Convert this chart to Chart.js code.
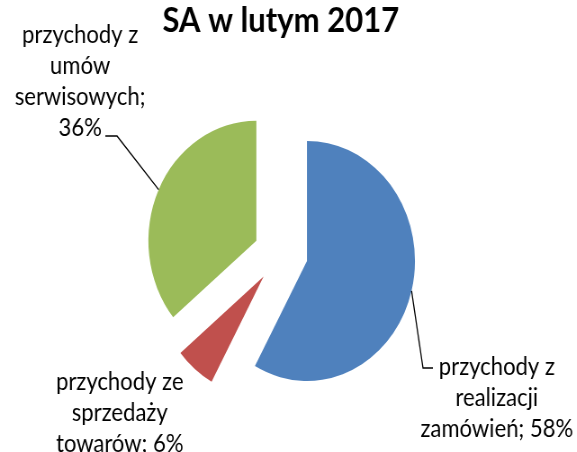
<!DOCTYPE html>
<html lang="pl">
<head>
<meta charset="utf-8">
<title>SA w lutym 2017</title>
<script src="https://cdn.jsdelivr.net/npm/chart.js@4.4.1/dist/chart.umd.min.js"></script>
<style>
    html, body { margin: 0; padding: 0; background: #fff; overflow: hidden; }
    /* the original picture is a little squeezed sideways, so is this one */
    #wrap { width: 641px; height: 452px; transform: scaleX(0.9); transform-origin: 0 0; }
</style>
</head>
<body>
<div id="wrap"><canvas id="pieChart" width="641" height="452"></canvas></div>
<script>
const chartTitle = 'SA w lutym 2017';
const categoryLines = [
    ['przychody z', 'realizacji', 'zamówień'],
    ['przychody ze', 'sprzedaży', 'towarów'],
    ['przychody z', 'umów', 'serwisowych']
];
const shares = [58, 6, 36];
const percentOnOwnLine = [false, false, true];
const sliceColors = ['#4F81BD', '#C0504D', '#9BBB59'];

// label placement (first baseline) and leader line bend, canvas px
const labelAnchors = [
    { x: 552, y: 375, elbow: { x: 470, y: 368 }, tail: 481 },
    { x: 133, y: 390, elbow: null },
    { x: 89, y: 43, elbow: { x: 130, y: 136 }, tail: 117 }
];

function labelText(i) {
    const lines = categoryLines[i].slice();
    const last = lines.length - 1;
    if (percentOnOwnLine[i]) {
        lines[last] += ';';
        lines.push(shares[i] + '%');
    } else {
        lines[last] += '; ' + shares[i] + '%';
    }
    return lines;
}

// push every slice out along its bisector, like an exploded Excel pie
const explodePlugin = {
    id: 'explode',
    afterDatasetsUpdate(chart, args, opts) {
        chart.getDatasetMeta(0).data.forEach(arc => {
            const mid = (arc.startAngle + arc.endAngle) / 2;
            arc.x += Math.cos(mid) * opts.distance;
            arc.y += Math.sin(mid) * opts.distance;
        });
    }
};

const labelPlugin = {
    id: 'sliceLabels',
    afterDraw(chart, args, opts) {
        const ctx = chart.ctx;
        const arcs = chart.getDatasetMeta(0).data;
        ctx.save();
        ctx.font = opts.font;
        ctx.fillStyle = opts.color;
        ctx.strokeStyle = opts.color;
        ctx.lineWidth = 1.3;
        ctx.textAlign = 'center';
        ctx.textBaseline = 'alphabetic';
        arcs.forEach((arc, i) => {
            const a = labelAnchors[i];
            labelText(i).forEach((t, k) => ctx.fillText(t, a.x, a.y + k * opts.lineHeight));
            if (!a.elbow) return;
            const mid = (arc.startAngle + arc.endAngle) / 2;
            ctx.beginPath();
            ctx.moveTo(arc.x + Math.cos(mid) * arc.outerRadius, arc.y + Math.sin(mid) * arc.outerRadius);
            ctx.lineTo(a.elbow.x, a.elbow.y);
            ctx.lineTo(a.tail, a.elbow.y);
            ctx.stroke();
        });
        ctx.restore();
    }
};

new Chart(document.getElementById('pieChart').getContext('2d'), {
    type: 'pie',
    data: {
        labels: categoryLines.map(l => l.join(' ')),
        datasets: [{
            data: shares,
            backgroundColor: sliceColors,
            borderWidth: 0,
            radius: 120
        }]
    },
    options: {
        responsive: false,
        animation: false,
        layout: { padding: { left: 0, right: 17, top: 0, bottom: 0 } },
        plugins: {
            legend: { display: false },
            title: {
                display: true,
                text: chartTitle,
                color: '#000',
                font: { family: 'Lato', size: 34.5, weight: 'bold', lineHeight: 1.2 },
                padding: { top: 0, bottom: 13.6 }
            },
            explode: { distance: 30 },
            sliceLabels: { font: '24.5px Lato', color: '#000', lineHeight: 31 }
        }
    },
    plugins: [explodePlugin, labelPlugin]
});
</script>
</body>
</html>
